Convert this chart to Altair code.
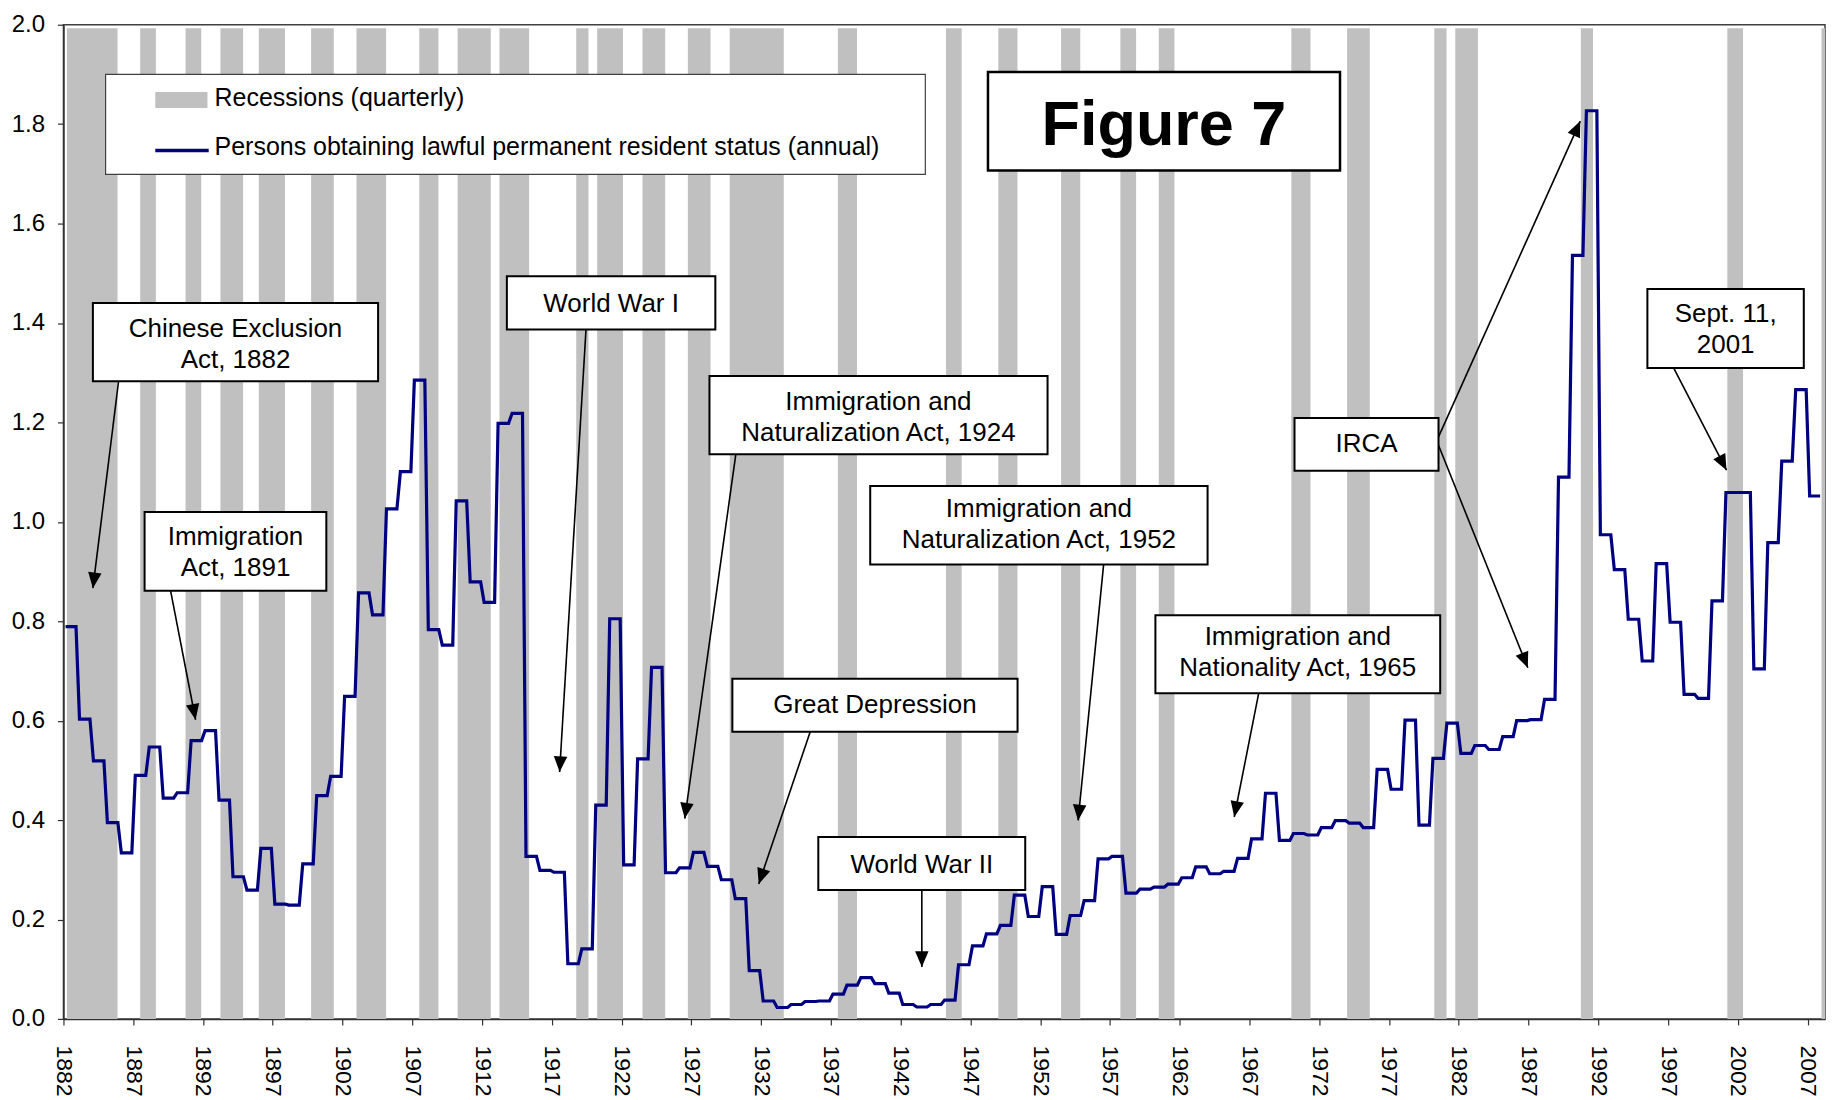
import math
import altair as alt
import pandas as pd

# ---------------- data ----------------
years = list(range(1882, 2008))
persons_millions = [
    0.789, 0.603, 0.519, 0.395, 0.334, 0.490, 0.547, 0.444, 0.455, 0.560,  # 1882-1891
    0.580, 0.440, 0.286, 0.259, 0.343, 0.231, 0.229, 0.312, 0.449, 0.488,  # 1892-1901
    0.649, 0.857, 0.813, 1.026, 1.101, 1.285, 0.783, 0.752, 1.042, 0.879,  # 1902-1911
    0.838, 1.198, 1.218, 0.327, 0.299, 0.295, 0.111, 0.141, 0.430, 0.805,  # 1912-1921
    0.310, 0.523, 0.707, 0.294, 0.304, 0.335, 0.307, 0.280, 0.242, 0.097,  # 1922-1931
    0.036, 0.023, 0.029, 0.035, 0.036, 0.050, 0.068, 0.083, 0.071, 0.052,  # 1932-1941
    0.029, 0.024, 0.029, 0.038, 0.109, 0.147, 0.171, 0.188, 0.249, 0.206,  # 1942-1951
    0.266, 0.170, 0.208, 0.238, 0.322, 0.327, 0.253, 0.261, 0.265, 0.271,  # 1952-1961
    0.284, 0.306, 0.292, 0.297, 0.323, 0.362, 0.454, 0.359, 0.373, 0.370,  # 1962-1971
    0.385, 0.399, 0.394, 0.385, 0.502, 0.462, 0.601, 0.390, 0.524, 0.595,  # 1972-1981
    0.534, 0.550, 0.542, 0.568, 0.600, 0.602, 0.643, 1.090, 1.536, 1.827,  # 1982-1991
    0.974, 0.904, 0.804, 0.720, 0.916, 0.798, 0.653, 0.645, 0.841, 1.059,  # 1992-2001
    1.059, 0.704, 0.958, 1.122, 1.266, 1.052,                              # 2002-2007
]

rec_start = [1882.25, 1887.5, 1890.75, 1893.25, 1896.0, 1899.75, 1903.0, 1907.5,
             1910.25, 1913.25, 1918.75, 1920.25, 1923.5, 1926.75, 1929.75, 1937.5,
             1945.25, 1949.0, 1953.5, 1957.75, 1960.5, 1970.0, 1974.0, 1980.25,
             1981.75, 1990.75, 2001.25, 2008.0]
rec_end = [1885.875, 1888.625, 1891.875, 1894.875, 1897.875, 1901.375, 1905.125, 1908.875,
           1912.625, 1915.375, 1919.625, 1922.1, 1925.125, 1928.375, 1933.625, 1938.875,
           1946.375, 1950.375, 1954.875, 1958.875, 1961.625, 1971.375, 1975.625, 1981.125,
           1983.375, 1991.625, 2002.375, 2008.25]

tick_years = list(range(1882, 2008, 5))
y_ticks = [round(0.2 * i, 1) for i in range(11)]

# ---------------- annotation layout (data units) ----------------
box_labels = ["Chinese Exclusion\nAct, 1882", "Immigration\nAct, 1891", "World War I",
              "Immigration and\nNaturalization Act, 1924", "Great Depression",
              "Immigration and\nNaturalization Act, 1952", "World War II",
              "Immigration and\nNationality Act, 1965", "IRCA", "Sept. 11,\n2001"]
box_x1 = [1884.11, 1887.815, 1913.78, 1928.30, 1929.94, 1939.82, 1936.10, 1960.26, 1970.23, 1995.52]
box_x2 = [1904.55, 1900.84, 1928.72, 1952.53, 1950.38, 1964.00, 1950.93, 1980.67, 1980.55, 2006.73]
box_y1 = [1.2828, 0.8612, 1.3868, 1.1360, 0.5777, 0.9143, 0.2594, 0.6549, 1.1025, 1.3095]
box_y2 = [1.4402, 1.0200, 1.4939, 1.2934, 0.6842, 1.0723, 0.3659, 0.8123, 1.2090, 1.4684]
text_x = [1894.33, 1894.33, 1921.25, 1940.41, 1940.16, 1951.91, 1943.52, 1970.46, 1975.39, 2001.13]
text_y = [1.3719, 0.9537, 1.4222, 1.2245, 0.6147, 1.0100, 0.2936, 0.7520, 1.1407, 1.4020]

arrow_x1 = [1885.95, 1889.68, 1919.45, 1930.19, 1935.52, 1956.55, 1943.52, 1967.66, 1980.55, 1980.55, 1997.40]
arrow_y1 = [1.2828, 0.8612, 1.3868, 1.1360, 0.5777, 0.9143, 0.2594, 0.6549, 1.1708, 1.1541, 1.3095]
arrow_x2 = [1884.11, 1891.47, 1917.56, 1926.53, 1931.83, 1954.72, 1943.52, 1965.91, 1990.71, 1986.95, 2001.19]
arrow_y2 = [0.8665, 0.6018, 0.4966, 0.4030, 0.2714, 0.3993, 0.1046, 0.4062, 1.8062, 0.7063, 1.1039]

legend_labels = ["Recessions (quarterly)",
                 "Persons obtaining lawful permanent resident status (annual)"]

# ---------------- styling / geometry ----------------
X_DOMAIN = [1882, 2008.25]
Y_DOMAIN = [0, 2]
W, H = 1763, 995
FONT = "Liberation Sans, Arial, Helvetica, sans-serif"
NAVY = "#000080"
GRAY = "#C0C0C0"
BAND_TOP = 1.993

xs = alt.Scale(domain=X_DOMAIN, nice=False, zero=False)
ys = alt.Scale(domain=Y_DOMAIN, nice=False, zero=False)

xaxis = alt.Axis(values=tick_years, format="d", labelAngle=90, labelFontSize=23,
                 labelFont=FONT, labelColor="black", tickSize=6, labelPadding=20,
                 grid=False, labelOverlap=False, labelFlush=False, title=None,
                 domainColor="#303030", tickColor="#303030", domainWidth=1.5, tickWidth=1.2)
yaxis = alt.Axis(values=y_ticks, format=".1f", labelFontSize=24, labelFont=FONT,
                 labelColor="black", tickSize=6, labelPadding=13, grid=False, title=None,
                 labelOverlap=False, domainColor="#303030", tickColor="#303030",
                 domainWidth=1.5, tickWidth=1.2)


def X(field):
    return alt.X(field, scale=xs, axis=xaxis, title=None)


def Y(field):
    return alt.Y(field, scale=ys, axis=yaxis, title=None)


px_per_year = W / (X_DOMAIN[1] - X_DOMAIN[0])
px_per_val = H / (Y_DOMAIN[1] - Y_DOMAIN[0])

# ---------------- layers ----------------
rec_df = pd.DataFrame({"start": rec_start, "end": rec_end})
bands = alt.Chart(rec_df).transform_calculate(
    lo="0", hi=str(BAND_TOP)
).mark_rect(color=GRAY, opacity=1).encode(
    x=X("start:Q"), x2="end:Q", y=Y("lo:Q"), y2="hi:Q",
)

line_df = pd.DataFrame({"year": years, "persons": persons_millions})
line = alt.Chart(line_df).transform_calculate(
    a="datum.year + 0.15", b="datum.year + 0.9"
).transform_fold(["a", "b"], as_=["edge", "t"]).mark_line(
    color=NAVY, strokeWidth=3.2, strokeJoin="miter"
).encode(
    x=X("t:Q"), y=Y("persons:Q"), order=alt.Order("t:Q"),
)

# legend box
leg_box_df = pd.DataFrame({"x1": [1885.02], "x2": [1943.77], "y1": [1.699], "y2": [1.900]})
leg_box = alt.Chart(leg_box_df).mark_rect(fill="white", stroke="#404040", strokeWidth=1.2).encode(
    x=X("x1:Q"), x2="x2:Q", y=Y("y1:Q"), y2="y2:Q")
sw_df = pd.DataFrame({"x1": [1888.58], "x2": [1892.32], "y1": [1.8323], "y2": [1.8645]})
leg_swatch = alt.Chart(sw_df).mark_rect(color=GRAY).encode(
    x=X("x1:Q"), x2="x2:Q", y=Y("y1:Q"), y2="y2:Q")
ln_df = pd.DataFrame({"x1": [1888.58], "x2": [1892.41], "y": [1.7472]})
leg_line = alt.Chart(ln_df).mark_rule(color=NAVY, strokeWidth=3.5).encode(
    x=X("x1:Q"), x2="x2:Q", y=Y("y:Q"))
lt_df = pd.DataFrame({"label": legend_labels, "x": [1892.83, 1892.83], "y": [1.8363, 1.7378]})
leg_text = alt.Chart(lt_df).mark_text(
    font=FONT, fontSize=25, align="left", baseline="alphabetic", color="black"
).encode(x=X("x:Q"), y=Y("y:Q"), text="label:N")

# Figure 7 title box
fig_df = pd.DataFrame({"x1": [1948.26], "x2": [1973.49], "y1": [1.7070], "y2": [1.9047],
                       "tx": [1960.87], "ty": [1.7573], "label": ["Figure 7"]})
fig_box = alt.Chart(fig_df).mark_rect(fill="white", stroke="black", strokeWidth=2.5).encode(
    x=X("x1:Q"), x2="x2:Q", y=Y("y1:Q"), y2="y2:Q")
fig_text = alt.Chart(fig_df).mark_text(
    font=FONT, fontSize=63, fontWeight="bold", align="center", baseline="alphabetic", color="black"
).encode(x=X("tx:Q"), y=Y("ty:Q"), text="label:N")

# annotation boxes
ann_df = pd.DataFrame({"label": box_labels, "x1": box_x1, "x2": box_x2, "y1": box_y1,
                       "y2": box_y2, "tx": text_x, "ty": text_y})
ann_box = alt.Chart(ann_df).mark_rect(fill="white", stroke="black", strokeWidth=2).encode(
    x=X("x1:Q"), x2="x2:Q", y=Y("y1:Q"), y2="y2:Q")
ann_text = alt.Chart(ann_df).mark_text(
    font=FONT, fontSize=26, align="center", baseline="alphabetic", lineBreak="\n",
    lineHeight=31, color="black"
).encode(x=X("tx:Q"), y=Y("ty:Q"), text="label:N")

# arrows
angles = []
for x1, y1, x2, y2 in zip(arrow_x1, arrow_y1, arrow_x2, arrow_y2):
    dx = (x2 - x1) * px_per_year
    dy = -(y2 - y1) * px_per_val
    angles.append(math.degrees(math.atan2(dx, -dy)) % 360)
arr_df = pd.DataFrame({"x1": arrow_x1, "y1": arrow_y1, "x2": arrow_x2, "y2": arrow_y2, "ang": angles})
arr_shaft = alt.Chart(arr_df).mark_rule(color="black", strokeWidth=1.6).encode(
    x=X("x1:Q"), y=Y("y1:Q"), x2="x2:Q", y2="y2:Q")
arr_head = alt.Chart(arr_df).mark_point(
    shape="M0,0L0.9,2.1L-0.9,2.1Z", filled=True, color="black", opacity=1, size=225, strokeWidth=0
).encode(
    x=X("x2:Q"), y=Y("y2:Q"), angle=alt.Angle("ang:Q", scale=None))

chart = alt.layer(
    bands, line, leg_box, leg_swatch, leg_line, leg_text, fig_box, fig_text,
    arr_shaft, arr_head, ann_box, ann_text
).properties(
    width=W, height=H,
    padding={"left": 55.5, "top": 16.3, "right": 10, "bottom": 80},
    autosize=alt.AutoSizeParams(type="none"),
    background="white",
).configure_view(stroke="#404040", strokeWidth=1.5)

chart.save("out.html", embed_options={"renderer": "svg", "actions": False})
